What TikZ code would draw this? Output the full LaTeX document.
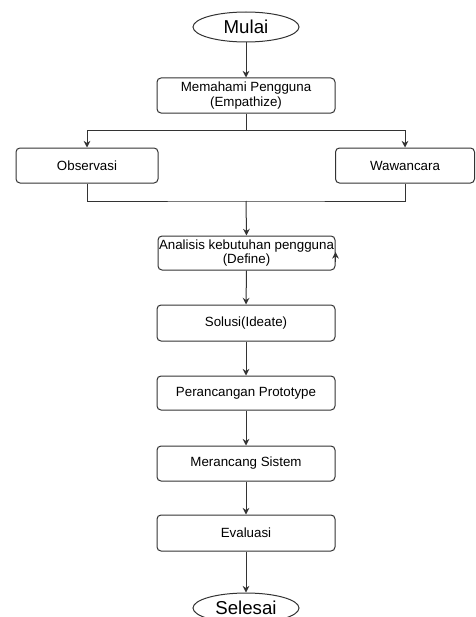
\documentclass[tikz,border=0pt]{standalone}
\usepackage{fontspec}
\setmainfont{Liberation Sans}
\usetikzlibrary{shapes.geometric,arrows.meta}
\begin{document}
\begin{tikzpicture}[x=0.75pt,y=-0.75pt,
  box/.style={draw=black!80,line width=0.75pt,rounded corners=3pt,minimum width=133.5pt,minimum height=26.25pt,inner sep=0pt,align=center,font=\fontsize{10}{11}\selectfont},
  term/.style={draw=black!80,line width=0.75pt,ellipse,minimum width=79.5pt,minimum height=22.5pt,inner sep=0pt,font=\fontsize{14}{16}\selectfont},
  conn/.style={draw=black!80,line width=0.75pt},
  arr/.style={conn,-{Stealth[length=5pt,width=5pt]}}]
\useasboundingbox (0,0) rectangle (475,617);
\node[term] (mulai) at (246,27) {Mulai};
\node[box] (emp) at (246,95.5) {Memahami Pengguna\\(Empathize)};
\node[box,minimum width=106.5pt] (obs) at (87,165.5) {Observasi};
\node[box,minimum width=104.25pt] (waw) at (405,165.5) {Wawancara};
\node[box,minimum width=132.75pt,minimum height=25.5pt] (def) at (246.5,253) {Analisis kebutuhan pengguna\\(Define)};
\node[box,minimum height=27pt] (sol) at (246,323) {Solusi(Ideate)};
\node[box,minimum height=25.5pt] (per) at (246,393) {Perancangan Prototype};
\node[box] (mer) at (246,463.5) {Merancang Sistem};
\node[box,minimum height=27pt] (eva) at (246,533) {Evaluasi};
\node[term] (sel) at (246,608) {Selesai};
\coordinate (split) at (246,130);
\coordinate (join) at (246,201);
\draw[arr] (mulai.south) -- (emp.north);
\draw[conn] (emp.south) -- (split);
\draw[arr] (split) -| (obs.north);
\draw[arr] (split) -| (waw.north);
\draw[conn] (obs.south) |- (join) -| (waw.south);
\draw[arr] (join) -- (def.north);
\draw[arr] ([yshift=-7pt]def.east) -- ([yshift=0.75pt]def.east);
\draw[arr] (def.south) -- (sol.north);
\draw[arr] (sol.south) -- (per.north);
\draw[arr] (per.south) -- (mer.north);
\draw[arr] (mer.south) -- (eva.north);
\draw[arr] (eva.south) -- (sel.north);
\end{tikzpicture}
\end{document}
